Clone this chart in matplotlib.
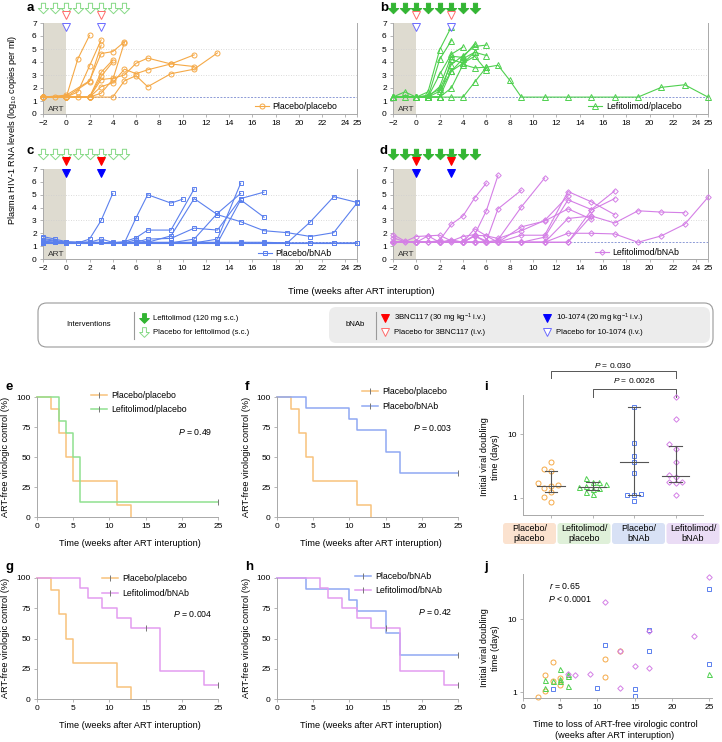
import numpy as np
import matplotlib
matplotlib.use('Agg')
import matplotlib.pyplot as plt
import matplotlib.transforms as mtransforms
from matplotlib.path import Path
from matplotlib.patches import FancyBboxPatch, Rectangle
from matplotlib.lines import Line2D

plt.rcParams['font.family'] = ['Liberation Sans', 'DejaVu Sans']
plt.rcParams['mathtext.fontset'] = 'custom'
plt.rcParams['mathtext.rm'] = 'Liberation Sans'
plt.rcParams['mathtext.it'] = 'Liberation Sans:italic'
plt.rcParams['font.size'] = 6

# ---------------- data ----------------
lefi_weeks = [-2, -1, 0, 1, 2, 3, 4, 5]
bnab_weeks = [0, 3]
week_ticks = [-2, 0, 2, 4, 6, 8, 10, 12, 14, 16, 18, 20, 22, 24, 25]

# a: placebo/placebo
a_weeks = [[-2, -1, 0, 1, 2], [-2, 0, 1, 2, 3], [-2, 0, 2, 3, 4, 5], [-2, 0, 2, 3],
           [-2, 0, 2, 3, 4], [-2, 0, 2, 3, 4], [-2, 0, 2, 3, 4, 5, 6, 7, 9, 11],
           [-2, 0, 2, 3, 4, 5, 6, 7, 9, 11], [-2, 0, 2, 4, 5, 6, 7, 9, 11, 13],
           [-2, 0, 1, 2, 3, 4, 5]]
a_vl = [[1.3, 1.3, 1.3, 4.25, 6.05], [1.3, 1.3, 1.7, 3.7, 5.7], [1.3, 1.45, 2.55, 4.65, 4.8, 5.55],
        [1.3, 1.3, 2.5, 5.3], [1.3, 1.3, 1.3, 3.2, 4.15], [1.3, 1.3, 1.3, 2.9, 4.0],
        [1.3, 1.3, 1.3, 2.65, 2.75, 3.0, 3.9, 4.3, 3.85, 4.55],
        [1.3, 1.3, 1.3, 2.1, 2.4, 3.45, 3.1, 3.4, 3.85, 3.65],
        [1.3, 1.3, 1.3, 1.3, 2.55, 2.95, 2.1, 3.1, 3.45, 4.7],
        [1.3, 1.3, 1.3, 1.3, 1.6, 2.65, 5.5]]

# b: lefitolimod/placebo
b_weeks = [[-2, -1, 0, 1, 2, 3], [-2, 0, 1, 2, 3], [-2, 0, 1, 2, 3, 4], [-2, 0, 1, 2, 3, 4, 5],
           [-2, 0, 1, 2, 3, 4, 5, 6], [-2, 0, 1, 2, 3, 4, 5, 6], [-2, 0, 1, 2, 3, 4, 5, 6],
           [-2, -1, 0, 1, 2, 3, 4, 5, 6, 7, 8, 9, 11, 13, 15, 17, 19, 21, 23, 25],
           [-2, 0, 1, 2, 3, 4, 5, 6], [-2, 0, 1, 2, 3, 4, 5]]
b_vl = [[1.3, 1.3, 1.3, 1.7, 4.95, 6.7], [1.3, 1.3, 1.3, 4.2, 5.65], [1.3, 1.3, 1.3, 3.05, 4.6, 5.15],
        [1.3, 1.3, 1.3, 2.1, 4.45, 4.35, 5.4], [1.3, 1.3, 1.45, 1.9, 3.8, 4.5, 5.2, 5.3],
        [1.3, 1.3, 1.3, 1.75, 3.3, 4.25, 4.75, 4.5], [1.3, 1.3, 1.3, 1.3, 4.2, 3.9, 4.45, 3.35],
        [1.3, 1.7, 1.3, 1.3, 1.3, 2.0, 3.8, 3.55, 3.6, 3.75, 2.6, 1.3, 1.3, 1.3, 1.3, 1.3, 1.3, 2.05, 2.25, 1.3],
        [1.3, 1.3, 1.3, 1.3, 1.3, 1.3, 2.45, 3.6], [1.3, 1.3, 1.3, 1.3, 3.3, 3.9, 4.75]]

# c: placebo/bNAb
c_weeks = [[-2, -1, 0, 1, 2, 3, 4], [-2, -1, 0, 2, 4, 5, 6, 7, 9, 10],
           [-2, -1, 0, 2, 3, 4, 5, 6, 7, 9, 11],
           [-2, 0, 2, 4, 5, 6, 7, 9, 11, 13, 15, 17, 19, 21, 23, 25],
           [-2, 0, 2, 4, 6, 7, 9, 11, 13, 15, 17], [-2, 0, 2, 4, 6, 7, 9, 11, 13, 15],
           [-2, 0, 2, 4, 6, 7, 9, 11, 13, 15], [-2, 0, 2, 4, 6, 7, 9, 11, 13, 15, 17],
           [-2, 0, 2, 4, 6, 7, 9, 11, 13, 15, 17, 19, 21, 23, 25],
           [-2, 0, 2, 4, 6, 7, 9, 11, 13, 15, 17, 19, 21, 23, 25],
           [-2, -1, 0, 1, 2, 3, 4, 5, 6, 7, 9, 11, 13, 15, 17, 19, 21, 23, 25]]
c_vl = [[1.5, 1.4, 1.25, 1.25, 1.55, 3.0, 5.1], [1.3, 1.3, 1.25, 1.3, 1.25, 1.25, 3.2, 5.0, 4.35, 4.65],
        [1.75, 1.55, 1.35, 1.3, 1.3, 1.25, 1.35, 1.65, 2.25, 2.25, 5.45],
        [1.6, 1.3, 1.25, 1.25, 1.25, 1.5, 1.3, 1.8, 4.7, 3.45, 2.9, 2.2, 2.05, 1.75, 2.05, 4.35],
        [1.3, 1.25, 1.25, 1.25, 1.3, 1.55, 1.6, 2.4, 2.25, 4.7, 5.2],
        [1.25, 1.25, 1.25, 1.25, 1.25, 1.3, 1.25, 1.55, 3.55, 5.1],
        [1.3, 1.25, 1.25, 1.25, 1.25, 1.25, 1.25, 1.25, 1.55, 5.9],
        [1.25, 1.25, 1.25, 1.25, 1.25, 1.25, 1.25, 1.25, 1.25, 4.6, 3.25],
        [1.3, 1.25, 1.3, 1.25, 1.25, 1.25, 1.25, 1.25, 1.25, 1.25, 1.25, 1.25, 2.9, 4.85, 4.4],
        [1.25, 1.25, 1.25, 1.25, 1.25, 1.25, 1.25, 1.25, 1.25, 1.25, 1.25, 1.25, 1.25, 1.25, 1.25],
        [1.4, 1.3, 1.3, 1.25, 1.3, 1.55, 1.3, 1.3, 1.3, 1.3, 1.3, 1.3, 1.3, 1.3, 1.3, 1.25, 1.25, 1.25, 1.25]]

# d: lefitolimod/bNAb
d_weeks = [[-2, -1, 0, 1, 2, 3, 4, 5, 6], [-2, -1, 0, 1, 2, 3, 4, 5, 6, 7],
           [-2, 0, 1, 2, 3, 4, 5, 6, 7, 9], [-2, 0, 2, 4, 5, 6, 7, 9, 11],
           [-2, 0, 2, 4, 5, 6, 7, 9, 11, 13], [-2, 0, 2, 4, 5, 6, 7, 9, 11, 13, 15, 17],
           [-2, 0, 2, 4, 5, 6, 7, 9, 11, 13, 15, 17],
           [-2, 0, 2, 4, 5, 6, 7, 9, 11, 13, 15, 17, 19, 21, 23],
           [-2, 0, 2, 4, 5, 6, 7, 9, 11, 13, 15, 17],
           [-2, 0, 2, 4, 5, 6, 7, 9, 11, 13, 15, 17, 19, 21, 23, 25],
           [-2, 0, 2, 4, 5, 6, 7, 9, 11, 13, 15], [-2, 0, 1, 2, 3, 4, 5, 6, 7, 9, 11, 13, 15]]
d_vl = [[1.9, 1.4, 1.3, 1.3, 1.45, 2.7, 3.35, 4.75, 5.9],
        [1.65, 1.35, 1.75, 1.8, 1.85, 1.4, 1.75, 1.9, 3.75, 6.5],
        [1.3, 1.3, 1.3, 1.3, 1.5, 1.3, 1.8, 1.4, 3.9, 5.35],
        [1.3, 1.3, 1.3, 1.3, 1.3, 1.3, 1.5, 4.05, 6.3],
        [1.3, 1.3, 1.3, 1.3, 2.35, 1.8, 1.6, 2.2, 3.0, 4.9],
        [1.3, 1.3, 1.3, 1.3, 1.3, 1.3, 1.3, 1.85, 1.85, 5.25, 4.45, 3.45],
        [1.3, 1.3, 1.3, 1.3, 1.3, 1.3, 1.3, 1.3, 1.7, 4.6, 3.85, 5.3],
        [1.3, 1.3, 1.3, 1.3, 1.8, 1.3, 1.3, 1.3, 1.3, 3.15, 3.35, 2.8, 3.75, 3.65, 3.6],
        [1.3, 1.3, 1.3, 1.3, 1.3, 1.3, 1.3, 1.3, 1.3, 1.3, 3.8, 4.7],
        [1.3, 1.3, 1.3, 1.3, 1.3, 1.3, 1.3, 1.3, 1.3, 2.0, 2.0, 1.95, 1.3, 1.8, 2.7, 4.8],
        [1.3, 1.3, 1.3, 1.3, 1.3, 1.3, 1.3, 2.5, 2.95, 3.9, 3.1],
        [1.3, 1.3, 1.8, 1.3, 1.3, 1.3, 1.85, 1.8, 1.3, 1.3, 1.3, 1.3, 3.35]]

# Kaplan-Meier curves (week, % controlled)
km_pp_t = [0, 2, 3, 4, 5, 11, 13]
km_pp_s = [100, 90, 70, 50, 30, 10, 0]
km_lp_t = [0, 3, 4, 5, 6, 25]
km_lp_s = [100, 80, 70, 50, 12.5, 12.5]
km_pb_t = [0, 4, 10, 11, 15, 17, 25]
km_pb_s = [100, 90.9, 81.8, 72.7, 54.5, 36.4, 36.4]
km_lb_t = [0, 6, 7, 9, 11, 13, 17, 23, 25]
km_lb_s = [100, 91.7, 83.3, 75, 66.7, 58.3, 23.3, 11.7, 11.7]
cens_lp_t, cens_lp_s = [25], [12.5]
cens_pb_t, cens_pb_s = [25], [36.4]
cens_lb_t, cens_lb_s = [15, 25], [58.3, 11.7]

# time to loss of control (weeks) and initial doubling time (days)
pp_ttl = [2, 3, 3, 4, 4, 5, 5, 11, 11, 13]
pp_dt = [0.87, 1.72, 1.03, 2.6, 1.44, 1.55, 1.26, 2.85, 1.6, 3.7]
lp_ttl = [3, 3, 4, 5, 5, 5, 6, 6, 6, 25]
lp_dt = [1.47, 1.15, 1.44, 2.06, 1.52, 1.4, 1.78, 1.64, 1.23, 1.78]
pb_ttl = [4, 10, 11, 15, 15, 17, 17, 25, 25]
pb_dt = [1.11, 1.15, 4.46, 1.1, 0.89, 7.2, 3.66, 26.5, 2.43]
lb_ttl = [6, 7, 9, 11, 13, 13, 15, 17, 17, 23, 25]
lb_dt = [1.78, 1.7, 1.76, 17.4, 1.13, 3.7, 2.3, 6.9, 2.12, 5.9, 37.8]
group_median = [1.55, 1.48, 3.7, 2.22]
group_low = [1.22, 1.33, 1.1, 1.78]
group_high = [2.65, 1.75, 27.0, 6.6]
group_names = ['Placebo/\nplacebo', 'Lefitolimod/\nplacebo', 'Placebo/\nbNAb', 'Lefitolimod/\nbNAb']

# ---------------- style ----------------
ORANGE, GREEN, BLUE, PURPLE = '#f5a947', '#4fd04f', '#5b80ee', '#d47fe6'
KM_OR, KM_GR, KM_BL, KM_PU = '#f8c27c', '#90e090', '#8fa8f3', '#e39cf0'
GREY = '#a9a9a9'
W, H = 722, 742
fig = plt.figure(figsize=(W / 100, H / 100), dpi=100)


def add_ax(l, t, r, b):
    return fig.add_axes([l / W, 1 - b / H, (r - l) / W, (b - t) / H])


def ftext(x, y, s, **kw):
    fig.text(x / W, 1 - y / H, s, **kw)


def style_spines(ax, right=False):
    for sp in ['top', 'right']:
        ax.spines[sp].set_visible(False)
    if right:
        ax.spines['right'].set_visible(True)
    for sp in ax.spines.values():
        sp.set_color(GREY)
        sp.set_linewidth(0.7)
    ax.tick_params(length=2.5, width=0.6, color=GREY, labelsize=6, pad=2)


ARROW = Path([(-0.2, 0.5), (0.2, 0.5), (0.2, 0.0), (0.5, 0.0), (0.0, -0.5),
              (-0.5, 0.0), (-0.2, 0.0), (-0.2, 0.5)],
             [Path.MOVETO] + [Path.LINETO] * 6 + [Path.CLOSEPOLY])


def vl_panel(ax, weeks, vl, color, marker, ms, label, lefi_on, bnab_on, leg_pos):
    ax.axvspan(-2, 0, color='#dedbd0', lw=0, zorder=0)
    ax.text(-1.6, 0.35, 'ART', fontsize=6, va='center', ha='left', color='#333333')
    for y in (3, 5):
        ax.axhline(y, ls=(0, (1, 2)), color='#cfcfcf', lw=0.6, zorder=1)
    ax.axhline(1.3, ls=(0, (2, 1.5)), color='#8c9ad6', lw=0.7, zorder=1)
    for t, v in zip(weeks, vl):
        ax.plot(t, v, color=color, lw=0.8, marker=marker, ms=ms, mfc='none',
                mec=color, mew=0.7, zorder=3, clip_on=False)
    ax.set_xlim(-2, 25)
    ax.set_ylim(0, 7)
    ax.set_xticks(week_ticks)
    ax.set_yticks(range(8))
    style_spines(ax, right=True)
    handle = Line2D([], [], color=color, lw=0.8, marker=marker, ms=ms, mfc='none', mew=0.7)
    ax.legend([handle], [label], loc='center left', bbox_to_anchor=leg_pos, frameon=False,
              fontsize=6.3, handlelength=1.6, handletextpad=0.4, borderpad=0, borderaxespad=0)
    tr = mtransforms.blended_transform_factory(ax.transData, ax.transAxes)
    gcol = '#33b533' if lefi_on else '#86d986'
    ax.plot(lefi_weeks, [1.17] * len(lefi_weeks), ls='none', marker=ARROW, ms=7.5,
            mfc=gcol if lefi_on else 'white', mec=gcol, mew=0.7, transform=tr, clip_on=False)
    rcol, bcol = ('#ff0000', '#0000ff') if bnab_on else ('#ff6b6b', '#6b6bff')
    ax.plot(bnab_weeks, [1.085] * 2, ls='none', marker='v', ms=6.2,
            mfc=rcol if bnab_on else 'white', mec=rcol, mew=0.7, transform=tr, clip_on=False)
    ax.plot(bnab_weeks, [0.955] * 2, ls='none', marker='v', ms=6.2,
            mfc=bcol if bnab_on else 'white', mec=bcol, mew=0.7, transform=tr, clip_on=False, zorder=5)


ax_a = add_ax(43, 23, 357, 114)
vl_panel(ax_a, a_weeks, a_vl, ORANGE, 'o', 3.6, 'Placebo/placebo', False, False, (0.675, 0.08))
ax_b = add_ax(393, 23, 708, 114)
vl_panel(ax_b, b_weeks, b_vl, GREEN, '^', 3.8, 'Lefitolimod/placebo', True, False, (0.62, 0.08))
ax_c = add_ax(43, 169, 357, 259)
vl_panel(ax_c, c_weeks, c_vl, BLUE, 's', 3.2, 'Placebo/bNAb', False, True, (0.685, 0.06))
ax_d = add_ax(393, 169, 708, 259)
vl_panel(ax_d, d_weeks, d_vl, PURPLE, 'D', 2.8, 'Lefitolimod/bNAb', True, True, (0.64, 0.07))

ftext(13, 130, 'Plasma HIV-1 RNA levels (log$_{10}$ copies per ml)', rotation=90,
      ha='center', va='center', fontsize=6.6)
ftext(361, 291, 'Time (weeks after ART interuption)', ha='center', va='center', fontsize=6.8)

# ---------------- intervention legend ----------------
fig.patches.append(FancyBboxPatch((38 / W, 1 - 347 / H), 675 / W, 44 / H,
                                  boxstyle='round,pad=0,rounding_size=0.012',
                                  transform=fig.transFigure, fc='white', ec='#9a9a9a', lw=0.8))
fig.patches.append(FancyBboxPatch((329 / W, 1 - 343 / H), 381 / W, 36 / H,
                                  boxstyle='round,pad=0,rounding_size=0.01',
                                  transform=fig.transFigure, fc='#ececec', ec='none'))
for xd in (134, 376):
    fig.add_artist(Line2D([xd / W, xd / W], [1 - 312 / H, 1 - 339 / H], color='#9a9a9a', lw=0.8))
ftext(89, 325, 'Interventions', ha='center', va='center', fontsize=5.6)
ftext(355, 325, 'bNAb', ha='center', va='center', fontsize=5.6)
leg_items = [(144, 318, ARROW, '#33b533', '#33b533', 'Lefitolimod (120 mg s.c.)'),
             (144, 332, ARROW, 'white', '#86d986', 'Placebo for lefitolimod (s.c.)'),
             (385, 318, 'v', '#ff0000', '#ff0000', '3BNC117 (30 mg kg$^{-1}$ i.v.)'),
             (385, 332, 'v', 'white', '#ff6b6b', 'Placebo for 3BNC117 (i.v.)'),
             (547, 318, 'v', '#0000ff', '#0000ff', '10-1074 (20 mg kg$^{-1}$ i.v.)'),
             (547, 332, 'v', 'white', '#6b6bff', 'Placebo for 10-1074 (i.v.)')]
for x, y, mk, fc, ec, txt in leg_items:
    fig.add_artist(Line2D([x / W], [1 - y / H], ls='none', marker=mk, ms=7 if mk is ARROW else 6,
                          mfc=fc, mec=ec, mew=0.7))
    ftext(x + 9, y, txt, ha='left', va='center', fontsize=5.6)

# ---------------- Kaplan-Meier ----------------
def km_panel(ax, curves, pval, leg_anchor, pos_p):
    for t, s, col, lab, ct, cs in curves:
        ax.step(t, s, where='post', color=col, lw=1.1, clip_on=False, label=lab)
        if ct:
            ax.plot(ct, cs, ls='none', marker='|', ms=4, mew=0.7, color='#777777', clip_on=False)
    ax.set_xlim(0, 25)
    ax.set_ylim(0, 100)
    ax.set_xticks([0, 5, 10, 15, 20, 25])
    ax.set_yticks([0, 25, 50, 75, 100])
    style_spines(ax)
    handles = [Line2D([], [], color=c[2], lw=1.1, marker='|', ms=4, mec='#777777', mew=0.7)
               for c in curves]
    ax.legend(handles, [c[3] for c in curves], loc='upper left', bbox_to_anchor=leg_anchor,
              frameon=False, fontsize=6.3, handlelength=1.8, handletextpad=0.5,
              labelspacing=0.6, borderpad=0, borderaxespad=0)
    ax.text(pos_p[0], pos_p[1], '$P$ = ' + pval, transform=ax.transAxes, ha='right',
            va='center', fontsize=6.3)


pp = (km_pp_t, km_pp_s, KM_OR, 'Placebo/placebo', None, None)
lp = (km_lp_t, km_lp_s, KM_GR, 'Lefitolimod/placebo', cens_lp_t, cens_lp_s)
pb = (km_pb_t, km_pb_s, KM_BL, 'Placebo/bNAb', cens_pb_t, cens_pb_s)
lb = (km_lb_t, km_lb_s, KM_PU, 'Lefitolimod/bNAb', cens_lb_t, cens_lb_s)

ax_e = add_ax(37, 397, 218, 517)
km_panel(ax_e, [pp, lp], '0.49', (0.30, 1.05), (0.97, 0.71))
ax_f = add_ax(277, 397, 458, 517)
km_panel(ax_f, [pp, pb], '0.003', (0.47, 1.08), (0.97, 0.74))
ax_g = add_ax(37, 578, 218, 699)
km_panel(ax_g, [pp, lb], '0.004', (0.36, 1.03), (0.97, 0.70))
ax_h = add_ax(277, 578, 458, 699)
km_panel(ax_h, [pb, lb], '0.42', (0.43, 1.05), (0.97, 0.72))

for xc, yc in [(6, 457), (246, 457), (6, 638), (246, 638)]:
    ftext(xc, yc, 'ART-free virologic control (%)', rotation=90, ha='center', va='center', fontsize=6.6)
for xc, yc in [(130, 543), (371, 543), (130, 725), (371, 725)]:
    ftext(xc, yc, 'Time (weeks after ART interuption)', ha='center', va='center', fontsize=6.6)

# ---------------- i: doubling time by group ----------------
def swarm_offsets(vals, step=0.16, px_x=41.5, px_y=64, min_d=5.0):
    vals = np.asarray(vals)
    offs = np.zeros(len(vals))
    placed = []
    for idx in np.argsort(vals):
        y = np.log10(vals[idx]) * px_y
        cand = 0.0
        for k in range(30):
            cand = 0.0 if k == 0 else ((k + 1) // 2) * step * (-1 if k % 2 else 1)
            if all(np.hypot((cand - o) * px_x, y - yy) >= min_d for o, yy in placed):
                break
        offs[idx] = cand
        placed.append((cand, y))
    return offs


ax_i = add_ax(523, 395, 703, 515)
groups = [(pp_dt, ORANGE, 'o', 3.6), (lp_dt, GREEN, '^', 3.6), (pb_dt, BLUE, 's', 3.3), (lb_dt, PURPLE, 'D', 2.8)]
for k, (vals, col, mk, ms) in enumerate(groups):
    xs = k + swarm_offsets(vals)
    ax_i.plot(xs, vals, ls='none', marker=mk, ms=ms, mfc='none', mec=col, mew=0.7, clip_on=False, zorder=3)
    ax_i.plot([k - 0.33, k + 0.33], [group_median[k]] * 2, color='#555555', lw=0.8, zorder=4)
    ax_i.plot([k, k], [group_low[k], group_high[k]], color='#555555', lw=0.8, zorder=4)
    for yv in (group_low[k], group_high[k]):
        ax_i.plot([k - 0.15, k + 0.15], [yv, yv], color='#555555', lw=0.8, zorder=4)
ax_i.set_yscale('log')
ax_i.set_ylim(0.54, 41)
ax_i.set_xlim(-0.675, 3.66)
ax_i.set_yticks([1, 10])
ax_i.set_yticklabels(['1', '10'])
ax_i.yaxis.set_minor_locator(matplotlib.ticker.NullLocator())
ax_i.set_xticks(range(4))
ax_i.set_xticklabels([])
style_spines(ax_i)
tri = mtransforms.blended_transform_factory(ax_i.transData, ax_i.transAxes)
for x0, x1, ytop, ybot, ytxt, txt in [(0, 3, 1.20, 1.14, 1.25, '0.030'), (1, 3, 1.05, 0.985, 1.125, '0.0026')]:
    ax_i.plot([x0, x0, x1, x1], [ybot, ytop, ytop, ybot], color='#555555', lw=0.7,
              transform=tri, clip_on=False)
    ax_i.text((x0 + x1) / 2, ytxt, '$P$ = ' + txt, transform=tri, ha='center', va='center', fontsize=6)
box_cols = ['#fbe2cf', '#dff0d9', '#d8e1f5', '#eadcf5']
for k, (name, bc) in enumerate(zip(group_names, box_cols)):
    x0 = 503 + k * 54.5
    fig.patches.append(FancyBboxPatch((x0 / W, 1 - 544 / H), 53 / W, 21 / H,
                                      boxstyle='round,pad=0,rounding_size=0.004',
                                      transform=fig.transFigure, fc=bc, ec='none'))
    ftext(x0 + 26.5, 533.5, name, ha='center', va='center', fontsize=6.5, linespacing=1.15)
ftext(490, 457, 'Initial viral doubling\ntime (days)', rotation=90, ha='center', va='center',
      fontsize=6.6, linespacing=1.2)

# ---------------- j: correlation ----------------
ax_j = add_ax(523, 574, 712, 698)
for ttl, dt, col, mk, ms in [(pp_ttl, pp_dt, ORANGE, 'o', 3.6), (lp_ttl, lp_dt, GREEN, '^', 3.6),
                             (pb_ttl, pb_dt, BLUE, 's', 3.3), (lb_ttl, lb_dt, PURPLE, 'D', 2.8)]:
    ax_j.plot(ttl, dt, ls='none', marker=mk, ms=ms, mfc='none', mec=col, mew=0.7, clip_on=False)
ax_j.set_yscale('log')
ax_j.set_ylim(0.83, 42)
ax_j.set_xlim(0, 25.4)
ax_j.set_yticks([1, 10])
ax_j.set_yticklabels(['1', '10'])
ax_j.yaxis.set_minor_locator(matplotlib.ticker.NullLocator())
ax_j.set_xticks([0, 5, 10, 15, 20, 25])
style_spines(ax_j)
ax_j.text(0.14, 0.90, '$r$ = 0.65', transform=ax_j.transAxes, fontsize=6.3, va='center')
ax_j.text(0.13, 0.80, '$P$ < 0.0001', transform=ax_j.transAxes, fontsize=6.3, va='center')
ftext(490, 648, 'Initial viral doubling\ntime (days)', rotation=90, ha='center', va='center',
      fontsize=6.6, linespacing=1.2)
ftext(615, 730, 'Time to loss of ART-free virologic control\n(weeks after ART interuption)',
      ha='center', va='center', fontsize=6.6, linespacing=1.3)

# panel letters
for lab, x, y in [('a', 27, 8), ('b', 380, 8), ('c', 27, 151), ('d', 380, 151), ('e', 6, 387),
                  ('f', 245, 387), ('i', 484, 387), ('g', 6, 567), ('h', 245, 567), ('j', 484, 567)]:
    ftext(x, y, lab, ha='left', va='center', fontsize=9.5, fontweight='bold')

fig.savefig('out.png', dpi=100)
